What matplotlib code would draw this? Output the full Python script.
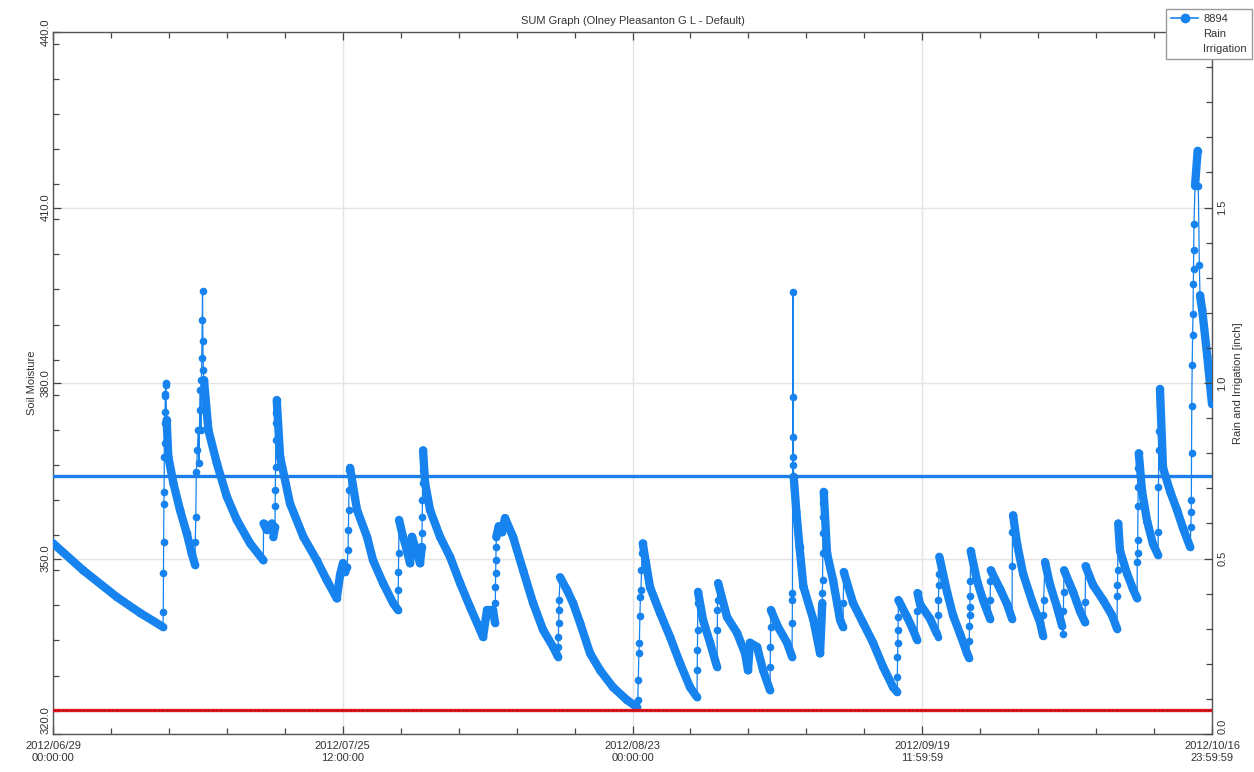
import datetime as dt
import matplotlib
matplotlib.use("Agg")
import matplotlib.pyplot as plt
import matplotlib.dates as mdates
from matplotlib.collections import LineCollection
from matplotlib.lines import Line2D
from matplotlib.ticker import FixedLocator, MultipleLocator, FormatStrFormatter

plt.rcParams['font.family'] = ['Liberation Sans', 'DejaVu Sans']

# soil moisture readings: days after 2012/06/29 00:00 and sensor value
days = [
    0.0, 2.85, 6.07, 8.26, 10.44,
    10.46, 10.48, 10.50, 10.52, 10.54, 10.56, 10.58, 10.60, 10.62, 10.64, 10.66, 10.68, 10.70,
    10.78, 10.94, 11.42, 12.05, 12.69, 13.16, 13.48,
    13.50, 13.55, 13.60, 13.70, 13.78, 13.85, 13.92, 13.98, 14.03, 14.08, 14.12, 14.16, 14.19, 14.22, 14.26,
    14.33, 14.74, 15.54, 16.49, 17.44, 18.70, 19.96,
    19.98, 20.28, 20.76, 20.91,
    21.07, 21.08, 21.10, 21.12, 21.14, 21.16, 21.18, 21.23,
    21.55, 22.49, 23.76, 25.03, 25.98, 26.93,
    27.24, 27.52, 27.71, 27.90,
    28.00, 28.03, 28.06, 28.09, 28.12, 28.19,
    28.85, 29.80, 30.37, 31.32, 32.27, 32.74,
    32.76, 32.78, 32.80, 32.84,
    33.22, 33.50, 33.88, 34.07, 34.45, 34.83,
    35.00, 35.02, 35.04, 35.06, 35.08, 35.10, 35.12,
    35.31, 35.78, 36.73, 37.68, 38.63, 39.58, 40.53, 40.81,
    41.19, 41.76, 41.95,
    41.97, 41.99, 42.01, 42.03, 42.05, 42.07, 42.30, 42.60, 42.90,
    43.66, 44.61, 45.56, 46.51, 47.46, 47.93,
    47.95, 47.97, 47.99, 48.01, 48.03, 48.12,
    48.78, 49.35, 50.02, 50.97, 51.92, 53.15, 54.48, 55.43,
    55.50, 55.55, 55.60, 55.65, 55.70, 55.75, 55.80, 55.85, 55.90, 55.97,
    56.66, 57.61, 58.56, 59.51, 60.46, 61.12,
    61.14, 61.16, 61.18, 61.20, 61.22,
    61.69, 62.36, 63.02,
    63.04, 63.06, 63.08, 63.12,
    63.97, 64.92, 65.68, 65.96,
    66.15, 66.82, 67.39, 68.05,
    68.07, 68.09, 68.11, 68.13,
    68.81, 69.67, 70.14,
    70.16, 70.17, 70.18, 70.19, 70.20, 70.21, 70.22, 70.23, 70.26,
    70.30, 70.55, 70.85, 71.22, 72.17, 72.80,
    73.01, 73.02, 73.04, 73.06, 73.08, 73.10, 73.12, 73.15,
    73.46, 74.03, 74.70, 74.98,
    75.00, 75.05,
    75.93, 76.88, 77.83, 78.78, 79.73, 80.11,
    80.13, 80.15, 80.17, 80.19, 80.21, 80.24,
    81.06, 81.63, 82.01,
    82.03, 82.05,
    82.29, 83.24, 83.90, 84.00,
    84.02, 84.04, 84.06, 84.08, 84.12,
    84.85, 85.42, 86.09, 86.75, 86.94,
    86.96, 86.98, 87.00, 87.02, 87.04, 87.06, 87.10,
    87.70, 88.27, 88.93,
    88.95, 88.97, 89.00,
    89.88, 90.55, 91.02,
    91.04, 91.06, 91.12,
    91.50, 92.07, 93.01, 93.68, 93.96,
    94.00, 94.02, 94.15,
    94.63, 95.29, 95.77, 95.86,
    95.90, 95.92, 95.96,
    96.81, 97.47, 97.95,
    97.97, 98.00,
    98.70, 99.66, 100.51, 100.99,
    101.01, 101.03, 101.05, 101.10,
    101.27, 101.94, 102.50, 102.89,
    102.91, 102.93, 102.95, 102.97, 102.99, 103.01, 103.05,
    103.36, 103.84, 104.40, 104.88,
    104.90, 104.92, 104.94, 104.96, 105.06,
    105.35, 106.02, 106.68, 107.25, 107.92,
    108.00, 108.02, 108.04, 108.06, 108.08, 108.12, 108.16, 108.20, 108.23, 108.25,
    108.27, 108.29, 108.39, 108.64, 108.70, 108.80, 108.86,
    109.07, 109.55, 110.0,
]
moisture = [
    352.6, 348.0, 343.4, 340.7, 338.3,
    340.9, 347.5, 352.9, 359.4, 361.4, 367.4, 369.7, 373.1, 375.1, 377.7, 378.2, 379.7, 380.0,
    373.7, 367.4, 362.9, 358.3, 354.3, 350.9, 348.9,
    352.9, 357.1, 364.8, 368.5, 372.0, 366.3, 375.4, 378.8, 372.0, 380.5, 384.3, 390.8, 395.8, 387.1, 382.2,
    380.5, 372.0, 366.3, 360.6, 356.6, 352.6, 349.7,
    356.0, 354.9, 356.0, 353.7,
    355.4, 358.9, 361.7, 365.7, 370.3, 373.1, 374.8, 377.1,
    367.4, 359.4, 353.7, 349.7, 346.3, 343.2,
    347.2, 349.2, 347.7, 348.5,
    351.5, 354.9, 358.3, 361.7, 365.1, 365.5,
    358.3, 353.7, 349.7, 345.8, 342.4, 341.2,
    344.6, 347.7, 350.9, 356.6,
    353.7, 352.0, 349.2, 353.7, 351.5, 349.2,
    352.0, 354.4, 357.1, 360.0, 362.9, 365.1, 368.5,
    362.9, 358.3, 353.7, 350.3, 345.8, 341.7, 337.8, 336.6,
    341.2, 341.2, 339.0,
    342.4, 345.1, 347.5, 349.7, 352.0, 353.7, 355.5, 354.5, 356.9,
    353.7, 348.0, 342.4, 337.8, 334.9, 333.2,
    334.9, 336.6, 339.0, 341.2, 342.9, 346.8,
    344.6, 342.4, 339.0, 333.8, 330.9, 328.0, 325.8, 324.6,
    325.8, 329.2, 333.8, 335.5, 340.1, 343.5, 344.6, 348.0, 350.9, 352.6,
    345.1, 340.7, 336.6, 332.1, 328.0, 326.3,
    330.9, 334.4, 337.8, 342.4, 344.3,
    339.5, 335.6, 331.5,
    337.8, 341.2, 342.9, 345.8,
    340.0, 337.3, 333.8, 330.9,
    335.6, 334.9, 330.9, 327.5,
    331.5, 334.9, 338.3, 341.2,
    338.3, 335.6, 333.2,
    339.0, 342.9, 344.1, 364.0, 367.4, 370.8, 377.6, 395.6, 366.0,
    364.0, 358.0, 352.0, 345.2, 339.5, 333.8,
    342.4, 344.1, 346.3, 350.9, 354.4, 357.1, 359.5, 361.4,
    350.9, 346.3, 339.5, 338.3,
    342.4, 347.7,
    342.4, 339.0, 335.6, 331.5, 328.0, 327.2,
    329.7, 333.2, 335.6, 337.8, 340.0, 342.9,
    340.0, 337.8, 336.1,
    341.0, 344.1,
    342.2, 339.7, 337.1, 336.6,
    340.3, 342.9, 345.5, 347.4, 350.3,
    344.3, 340.3, 337.1, 333.8, 333.0,
    335.9, 338.5, 340.3, 341.7, 343.6, 346.2, 351.3,
    346.2, 342.9, 339.7,
    342.9, 346.2, 348.0,
    344.8, 342.2, 339.7,
    348.7, 354.5, 357.4,
    352.5, 347.4, 342.2, 339.1, 336.8,
    340.3, 342.9, 349.4,
    345.5, 341.7, 338.5, 337.1,
    341.0, 344.3, 348.0,
    344.3, 341.0, 339.1,
    342.6, 348.7,
    345.5, 342.9, 340.3, 338.0,
    343.6, 345.5, 348.0, 356.0,
    351.3, 347.4, 344.8, 343.2,
    349.4, 350.9, 353.2, 359.0, 362.2, 365.5, 368.0,
    361.5, 356.4, 352.5, 350.6,
    354.5, 362.2, 368.5, 371.8, 379.0,
    365.5, 361.5, 358.3, 355.2, 352.0,
    355.4, 357.9, 360.0, 368.0, 376.1, 383.1, 388.2, 391.8, 396.9, 399.5,
    402.7, 407.2, 413.7, 419.7, 413.7, 400.2, 395.0,
    392.5, 384.6, 376.4,
]

upper_limit = 364.1
lower_limit = 324.1

moisture_ticks = [320, 350, 380, 410, 440]
rain_ticks = [0.0, 0.5, 1.0, 1.5]

start = dt.datetime(2012, 6, 29)
end = dt.datetime(2012, 10, 16, 23, 59, 59)
tick_labels = ['2012/06/29\n00:00:00', '2012/07/25\n12:00:00', '2012/08/23\n00:00:00',
               '2012/09/19\n11:59:59', '2012/10/16\n23:59:59']

blue = '#1683ee'
text_color = '#333333'

x = [mdates.date2num(start + dt.timedelta(days=d)) for d in days]
x0, x1 = mdates.date2num(start), mdates.date2num(end)

fig = plt.figure(figsize=(12.54, 7.72), dpi=100)
ax = fig.add_axes([0.0423, 0.0492, 0.9242, 0.9093])

# dense hourly stretches show up as a solid band, jumps stay thin
segs = [[(x[i], moisture[i]), (x[i + 1], moisture[i + 1])]
        for i in range(len(x) - 1) if days[i + 1] - days[i] > 0.15]
ax.add_collection(LineCollection(segs, colors=blue, linewidths=6.0,
                                 capstyle='round', zorder=3))
ax.plot(x, moisture, color=blue, lw=0.9, marker='o', ms=5.5, mew=0, zorder=4)

ax.axhline(upper_limit, color='#1a7fe8', lw=2.4, zorder=5)
ax.axhline(lower_limit, color='#e8141c', lw=2.4, zorder=5)
ax.axhline(lower_limit, color='#6a2020', lw=0.6, ls=(0, (3, 2)), zorder=6)

ax.set_xlim(x0, x1)
ax.set_ylim(320, 440)

step = (x1 - x0) / 4
ax.xaxis.set_major_locator(FixedLocator([x0 + k * step for k in range(5)]))
ax.xaxis.set_minor_locator(FixedLocator([x0 + k * step / 5 for k in range(21)]))
ax.set_xticklabels(tick_labels)
ax.yaxis.set_major_locator(FixedLocator(moisture_ticks))
ax.yaxis.set_minor_locator(MultipleLocator(6))
ax.yaxis.set_major_formatter(FormatStrFormatter('%.1f'))
ylabels = ax.get_yticklabels()
for lab in ylabels:
    lab.set_rotation(90)
    lab.set_va('center')
# keep the bottom label clear of the date labels
ylabels[0].set_va('bottom')

ax.grid(True, which='major', color='#e4e4e4', lw=1.0, zorder=0)
ax.tick_params(which='both', direction='in', top=True, colors='#444444',
               labelcolor=text_color, labelsize=8)
ax.tick_params(which='major', length=6, width=0.9)
ax.tick_params(which='minor', length=4, width=0.9)
ax.tick_params(axis='y', pad=2)
ax.tick_params(axis='x', pad=5)
for sp in ax.spines.values():
    sp.set_color('#555555')
    sp.set_linewidth(1.0)

ax.set_ylabel('Soil Moisture', fontsize=8, color=text_color, labelpad=2)
ax.set_title('SUM Graph (Olney Pleasanton G L - Default)', fontsize=8,
             color=text_color, pad=6)

# rain / irrigation scale on the right
ax2 = ax.twinx()
ax2.set_ylim(0, 2.0)
ax2.yaxis.set_major_locator(FixedLocator(rain_ticks))
ax2.yaxis.set_minor_locator(MultipleLocator(0.1))
ax2.yaxis.set_major_formatter(FormatStrFormatter('%.1f'))
rlabels = ax2.get_yticklabels()
for lab in rlabels:
    lab.set_rotation(90)
    lab.set_va('center')
rlabels[0].set_va('bottom')
ax2.tick_params(which='both', direction='in', colors='#444444',
                labelcolor=text_color, labelsize=8, pad=4)
ax2.tick_params(which='major', length=6, width=0.9)
ax2.tick_params(which='minor', length=4, width=0.9)
ax2.set_ylabel('Rain and Irrigation [inch]', fontsize=8, color=text_color, labelpad=4)
for sp in ax2.spines.values():
    sp.set_visible(False)

handles = [Line2D([], [], color=blue, lw=1.2, marker='o', ms=6),
           Line2D([], [], color='none'),
           Line2D([], [], color='none')]
leg = fig.legend(handles, ['8894', 'Rain', 'Irrigation'], loc='upper right',
                 bbox_to_anchor=(0.9985, 0.988), fontsize=8, frameon=True,
                 fancybox=False, framealpha=1, edgecolor='#9a9a9a',
                 handlelength=2.4, handletextpad=0.5, labelspacing=0.45,
                 borderpad=0.45, borderaxespad=0)
for t in leg.get_texts():
    t.set_color(text_color)
leg.set_zorder(20)

fig.savefig('out.png', dpi=100)
